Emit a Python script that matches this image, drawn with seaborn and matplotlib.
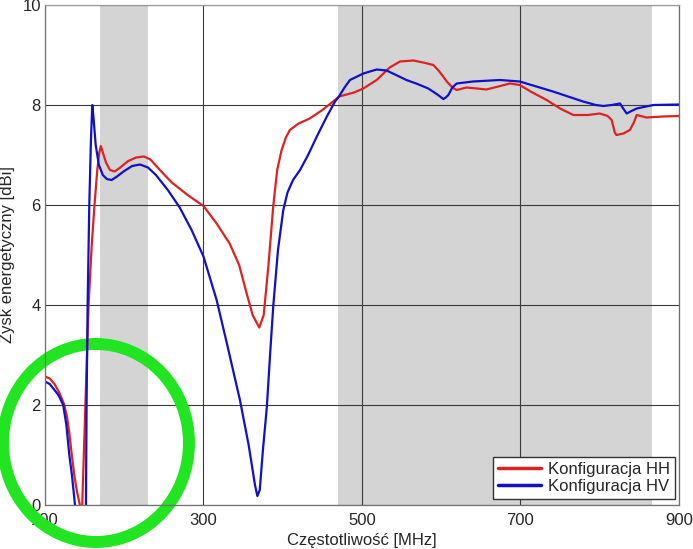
import matplotlib
matplotlib.use("Agg")
import matplotlib.pyplot as plt
from matplotlib.patches import Ellipse
import seaborn as sns
import pandas as pd

sns.set_style("white")
plt.rcParams["font.family"] = ["Liberation Sans", "DejaVu Sans"]

# gain of the antenna
hh_freq = [100, 106, 112, 118, 124, 128, 131, 134, 137, 140, 144, 145.5, 147,
           151, 155, 159, 162.5, 166, 168.5, 170.5, 173, 177, 182, 188, 195,
           205, 215, 225, 233, 245, 260, 280, 300, 316.6, 333, 345, 354.5, 362,
           370.4, 376, 382, 388, 393, 398.6, 404, 409, 420, 434, 450, 466, 471,
           490, 501.7, 518.5, 535, 548, 565, 580, 590, 596, 602, 607, 614,
           619.5, 632, 645, 657, 672, 686.7, 699, 715, 733, 750, 766.6, 785,
           800, 810, 815, 819, 821, 830, 838, 843, 846.6, 859, 880, 900]
hh_gain = [2.57, 2.53, 2.42, 2.25, 2.02, 1.75, 1.4, 0.98, 0.6, 0.3, 0.0, -2, 0.0,
           2.0, 4.0, 5.2, 6.0, 6.7, 7.05, 7.18, 7.05, 6.85, 6.7, 6.67, 6.75,
           6.88, 6.95, 6.97, 6.91, 6.7, 6.45, 6.2, 5.98, 5.63, 5.23, 4.8, 4.23, 3.8,
           3.55, 3.8, 4.8, 5.97, 6.7, 7.1, 7.35, 7.5, 7.63, 7.73, 7.9, 8.1, 8.17,
           8.25, 8.33, 8.5, 8.75, 8.87, 8.89, 8.84, 8.8, 8.7, 8.58, 8.47, 8.35,
           8.3, 8.35, 8.33, 8.31, 8.37, 8.43, 8.4, 8.25, 8.1, 7.93, 7.8, 7.8,
           7.83, 7.78, 7.7, 7.45, 7.4, 7.43, 7.5, 7.65, 7.8, 7.75, 7.77, 7.78]

hv_freq = [100, 106, 112, 117, 123, 127, 130.7, 134, 137.9, 145, 151.7, 152.5,
           153.8, 155.9, 158, 159.7, 161.5, 164, 168, 173, 178, 184, 190, 200,
           210, 220, 230, 240, 255, 270, 285, 300, 316.6, 330, 346, 357, 365,
           368, 371, 375, 380, 384, 388, 394, 400.7, 406, 413, 421.8, 432, 443,
           455, 466, 471, 478, 484.8, 501.7, 518.5, 531, 543, 556, 570, 583.7,
           596, 602.6, 605, 609, 614, 619.5, 640, 674, 699, 720, 741, 760, 779,
           795, 804.5, 815, 825.6, 830, 834, 840, 846.6, 867.6, 900]
hv_gain = [2.47, 2.42, 2.3, 2.2, 2.0, 1.6, 1.0, 0.6, 0.0, -2, 0.0, 2.0,
           4.0, 6.0, 7.3, 8.0, 7.7, 7.2, 6.8, 6.6, 6.52, 6.5, 6.56, 6.68,
           6.78, 6.81, 6.75, 6.6, 6.3, 5.95, 5.5, 4.97, 4.1, 3.2, 2.1, 1.2, 0.4,
           0.18, 0.3, 1.1, 1.97, 3.0, 3.97, 5.1, 5.9, 6.25, 6.5, 6.7, 7.0, 7.37,
           7.75, 8.07, 8.17, 8.35, 8.5, 8.63, 8.71, 8.69, 8.6, 8.5, 8.42, 8.33,
           8.2, 8.12, 8.14, 8.2, 8.35, 8.43, 8.47, 8.5, 8.47, 8.37, 8.27, 8.17, 8.07,
           8.0, 7.98, 8.0, 8.03, 7.92, 7.83, 7.88, 7.93, 8.0, 8.01]

labels = ["Konfiguracja HH", "Konfiguracja HV"]
bands = [(170, 230), (470, 866)]
x_ticks = [100, 300, 500, 700, 900]
y_ticks = [0, 2, 4, 6, 8, 10]

df = pd.concat([
    pd.DataFrame({"freq": hh_freq, "gain": hh_gain, "cfg": labels[0]}),
    pd.DataFrame({"freq": hv_freq, "gain": hv_gain, "cfg": labels[1]}),
])

fig = plt.figure(figsize=(6.93, 5.49), dpi=100, facecolor="white")
ax = fig.add_axes([0.0649, 0.0801, 0.9149, 0.9108])

for lo, hi in bands:
    ax.axvspan(lo, hi, color="#d4d4d4", zorder=0.3, lw=0)

sns.lineplot(data=df, x="freq", y="gain", hue="cfg",
             palette={labels[0]: "#dd2222", labels[1]: "#1010c8"},
             estimator=None, sort=False, linewidth=1.6, legend=False, ax=ax)

fs = 12
ax.set_xlim(100, 900)
ax.set_ylim(0, 10)
ax.set_xticks(x_ticks)
ax.set_yticks(y_ticks)
ax.grid(True, color="#3a3a3a", linewidth=0.8)
ax.set_axisbelow(True)
ax.tick_params(labelsize=fs, length=0)
ax.tick_params(axis="x", pad=5.5)
ax.tick_params(axis="y", pad=3)
for s in ax.spines.values():
    s.set_color("#707070")
    s.set_linewidth(0.9)
ax.spines["top"].set_color("#9a9a9a")
ax.set_xlabel("Częstotliwość [MHz]", fontsize=fs, labelpad=4)
ax.set_ylabel("Zysk energetyczny [dBi]", fontsize=fs)
ax.yaxis.set_label_coords(-0.047, 0.5)

leg = ax.legend(ax.lines[:2], labels, loc="lower right",
                bbox_to_anchor=(0.993, 0.012), borderaxespad=0,
                fontsize=fs, fancybox=False, framealpha=1, edgecolor="#333333",
                handlelength=2.6, borderpad=0.3, labelspacing=0.15,
                handletextpad=0.4)
for h in leg.get_lines():
    h.set_linewidth(2.5)

# green highlight ring around the low-frequency nulls
ring = Ellipse((0.1385, 0.1931), 0.2684, 0.3607, transform=fig.transFigure,
               fill=False, edgecolor="#22e522", linewidth=8.6,
               clip_on=False, zorder=1.5)
ax.add_patch(ring)

fig.savefig("out.png", dpi=100)
